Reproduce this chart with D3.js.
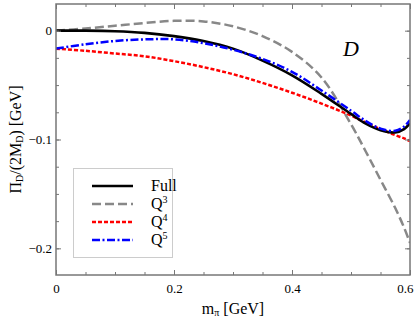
<!DOCTYPE html>
<html><head><meta charset="utf-8">
<script src="https://cdn.jsdelivr.net/npm/d3@7"></script>
<style>body{margin:0;background:#fff}text{font-family:"Liberation Serif","Times New Roman",serif}</style>
</head><body><svg id="c" width="415" height="332"></svg>
<script>
const mPi   = [0, 0.05, 0.1, 0.15, 0.2, 0.25, 0.3, 0.35, 0.4, 0.45, 0.5, 0.525, 0.55, 0.575, 0.59, 0.6];
const full  = [0, 0, -0.0005, -0.002, -0.005, -0.0095, -0.0165, -0.0275, -0.041, -0.058, -0.0765, -0.0855, -0.0915, -0.0935, -0.0905, -0.085];
const q3    = [0, 0.002, 0.0045, 0.007, 0.009, 0.0085, 0.004, -0.005, -0.0195, -0.043, -0.086, -0.111, -0.137, -0.163, -0.181, -0.195];
const q4    = [-0.0165, -0.0185, -0.021, -0.0235, -0.028, -0.0335, -0.040, -0.048, -0.057, -0.067, -0.078, -0.0845, -0.0905, -0.096, -0.099, -0.1015];
const q5    = [-0.0165, -0.0125, -0.0095, -0.008, -0.008, -0.0115, -0.0175, -0.026, -0.0378, -0.055, -0.0735, -0.083, -0.090, -0.092, -0.088, -0.082];
const xTicks = [0, 0.2, 0.4, 0.6];
const yTicks = [0, -0.1, -0.2];
const seriesNames = ["Full", "Q3", "Q4", "Q5"];

const svg = d3.select("#c");
const L = 56, R = 410, T = 4, B = 275;
const x = d3.scaleLinear().domain([0, 0.6]).range([L, R]);
const y = d3.scaleLinear().domain([0.0245, -0.2245]).range([T, B]);

const styles = [
  {c: "#000", w: 2.6, d: null},
  {c: "#888", w: 2.5, d: "9,4"},
  {c: "#f00", w: 2.5, d: "4,2"},
  {c: "#00f", w: 2.5, d: "8,2.5,2,2.5"}
];
const data = [full, q3, q4, q5];

svg.append("clipPath").attr("id", "cp").append("rect")
  .attr("x", L).attr("y", T).attr("width", R - L).attr("height", B - T);

const line = d3.line().x(d => x(d[0])).y(d => y(d[1])).curve(d3.curveCatmullRom.alpha(0.5));
const g = svg.append("g").attr("clip-path", "url(#cp)");
[1, 2, 0, 3].forEach(i => {
  g.append("path").datum(mPi.map((m, j) => [m, data[i][j]]))
    .attr("d", line).attr("fill", "none")
    .attr("stroke", styles[i].c).attr("stroke-width", styles[i].w)
    .attr("stroke-dasharray", styles[i].d);
});

const fmt = d => d === 0 ? "0" : d3.format(".1f")(d).replace("-", "\u2212");
const frame = "#777";
function styleAxis(sel) {
  sel.select(".domain").remove();
  sel.selectAll("line").attr("stroke", frame).attr("stroke-width", 1);
  sel.selectAll("text").attr("font-size", 13).attr("fill", "#000")
    .style("font-family", '"Liberation Serif", serif');
}
const xMinor = d3.range(0, 0.6001, 0.05);
const yMinor = d3.range(-0.2, 0.0201, 0.025);
svg.append("g").attr("transform", `translate(0,${B})`)
  .call(d3.axisBottom(x).tickValues(xMinor).tickSize(-3).tickFormat(""))
  .call(styleAxis);
const xa = svg.append("g").attr("transform", `translate(0,${B})`)
  .call(d3.axisBottom(x).tickValues(xTicks).tickSize(-5).tickPadding(9).tickFormat(d => d === 0 ? "0" : d3.format(".1f")(d)))
  .call(styleAxis);
xa.selectAll(".tick text").filter(d => d === 0.6).attr("text-anchor", "end").attr("dx", 3);
svg.append("g").attr("transform", `translate(0,${T})`)
  .call(d3.axisTop(x).tickValues(xMinor).tickSize(-3).tickFormat(""))
  .call(styleAxis);
svg.append("g").attr("transform", `translate(0,${T})`)
  .call(d3.axisTop(x).tickValues(xTicks).tickSize(-5).tickFormat(""))
  .call(styleAxis);
svg.append("g").attr("transform", `translate(${L},0)`)
  .call(d3.axisLeft(y).tickValues(yMinor).tickSize(-3).tickFormat(""))
  .call(styleAxis);
svg.append("g").attr("transform", `translate(${L},0)`)
  .call(d3.axisLeft(y).tickValues(yTicks).tickSize(-5).tickPadding(4).tickFormat(fmt))
  .call(styleAxis);
svg.append("g").attr("transform", `translate(${R},0)`)
  .call(d3.axisRight(y).tickValues(yMinor).tickSize(-3).tickFormat(""))
  .call(styleAxis);
svg.append("g").attr("transform", `translate(${R},0)`)
  .call(d3.axisRight(y).tickValues(yTicks).tickSize(-5).tickFormat(""))
  .call(styleAxis);

svg.append("rect").attr("x", L).attr("y", T).attr("width", R - L).attr("height", B - T)
  .attr("fill", "none").attr("stroke", frame).attr("stroke-width", 1.5);

const xl = svg.append("text").attr("x", (L + R) / 2).attr("y", 314).attr("text-anchor", "middle").attr("font-size", 16);
xl.append("tspan").text("m");
xl.append("tspan").attr("font-size", 10).attr("dy", 2).text("\u03c0");
xl.append("tspan").attr("dy", -2).text(" [GeV]");

const yl = svg.append("text").attr("transform", `translate(21,${(T + B) / 2}) rotate(-90)`)
  .attr("text-anchor", "middle").attr("font-size", 16);
yl.append("tspan").text("\u03a0");
yl.append("tspan").attr("font-size", 10).attr("dy", 2).text("D");
yl.append("tspan").attr("dy", -2).text("/(2M");
yl.append("tspan").attr("font-size", 10).attr("dy", 2).text("D");
yl.append("tspan").attr("dy", -2).text(") [GeV]");

svg.append("text").attr("x", 351).attr("y", 56).attr("text-anchor", "middle")
  .attr("font-size", 22).attr("font-style", "italic").text("D");

svg.append("rect").attr("x", 73.5).attr("y", 168.5).attr("width", 99).attr("height", 89)
  .attr("fill", "#fff").attr("stroke", "#ccc").attr("stroke-width", 1);
const rowY = [186, 204, 222, 240];
seriesNames.forEach((n, i) => {
  svg.append("line").attr("x1", 92).attr("x2", 133).attr("y1", rowY[i]).attr("y2", rowY[i])
    .attr("stroke", styles[i].c).attr("stroke-width", styles[i].w).attr("stroke-dasharray", styles[i].d);
  const t = svg.append("text").attr("x", 151).attr("y", rowY[i] + 5).attr("font-size", 16);
  if (i === 0) t.text(n);
  else {
    t.append("tspan").text("Q");
    t.append("tspan").attr("font-size", 10).attr("dy", -6).text(n.slice(1));
  }
});
</script></body></html>
